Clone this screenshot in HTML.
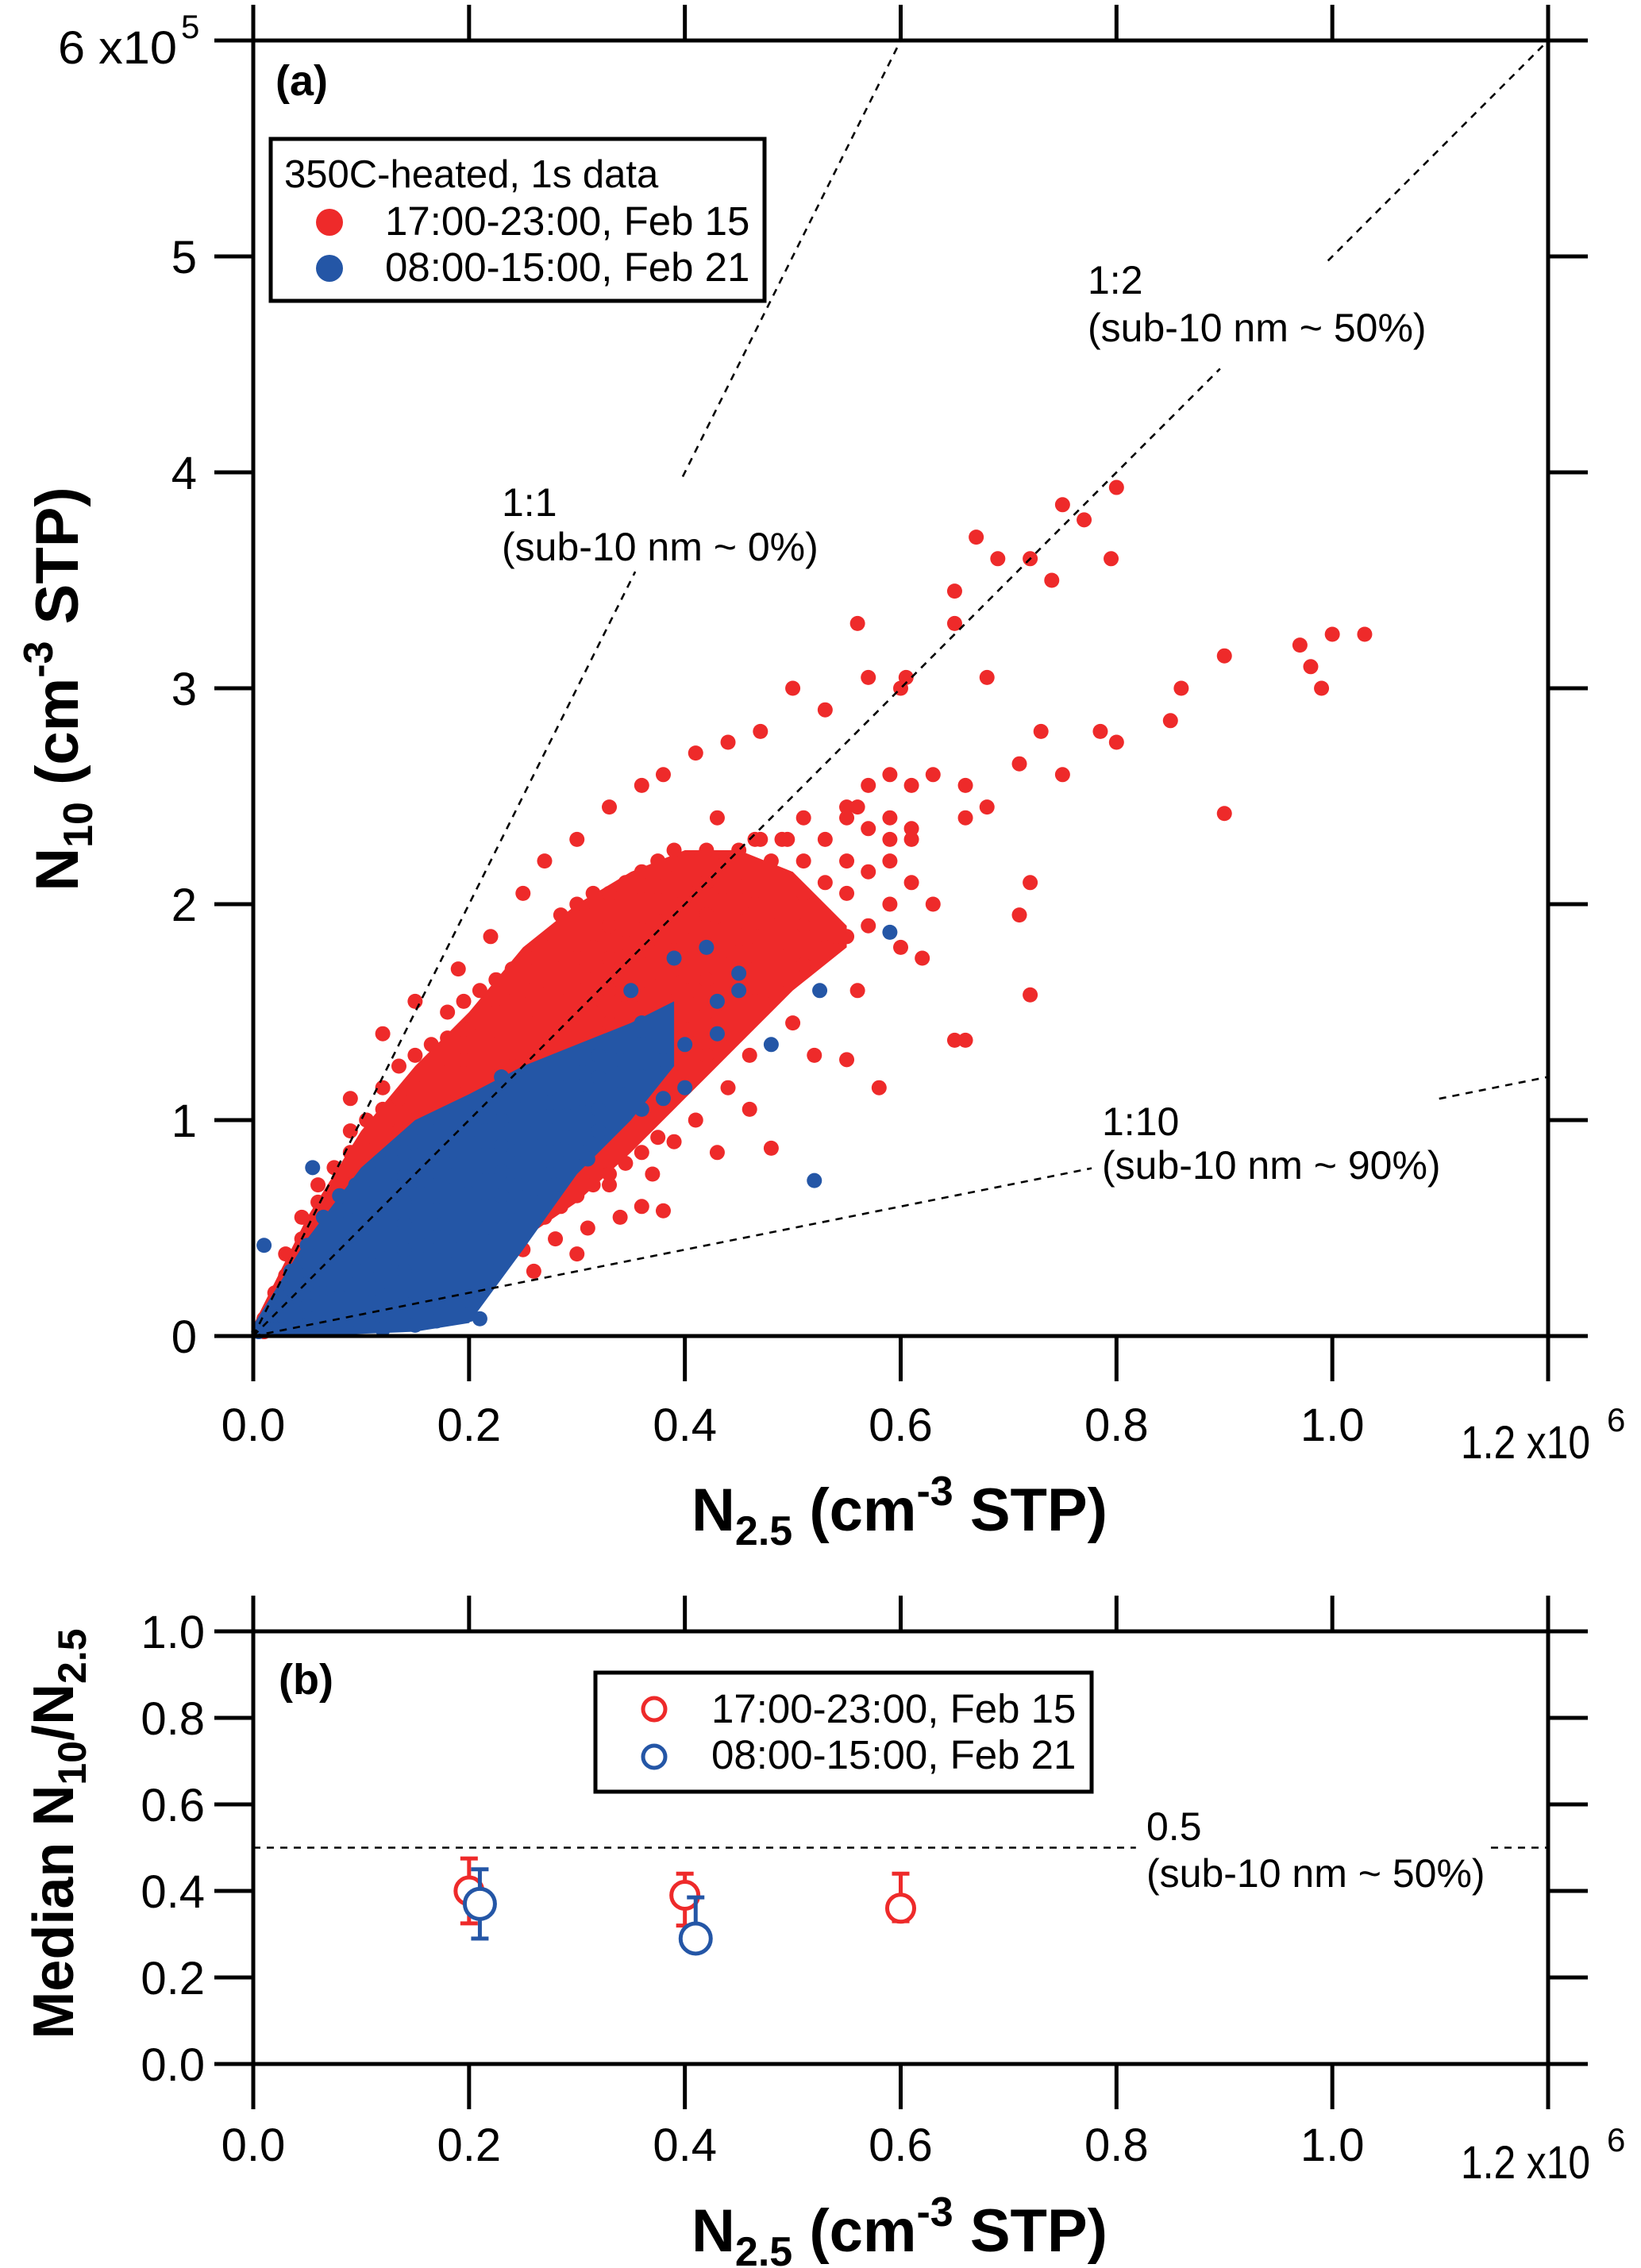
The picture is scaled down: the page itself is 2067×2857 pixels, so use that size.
<!DOCTYPE html>
<html><head><meta charset="utf-8">
<style>
html,body{margin:0;padding:0;background:#fff;}
svg{display:block;font-family:"Liberation Sans",Arial,sans-serif;}
</style></head>
<body>
<svg id="fig" xmlns="http://www.w3.org/2000/svg" width="2067" height="2857" viewBox="0 0 2067 2857"></svg>
<script>
// ---------- data (panel a: units of 1e5 cm^-3) ----------
const xTicks = [0, 2, 4, 6, 8, 10];
const xTickLabels = ["0.0", "0.2", "0.4", "0.6", "0.8", "1.0"];
const yTicksA = [0, 1, 2, 3, 4, 5];
const yTickLabelsA = ["0", "1", "2", "3", "4", "5"];
const yTicksB = [0, 0.2, 0.4, 0.6, 0.8, 1.0];
const yTickLabelsB = ["0.0", "0.2", "0.4", "0.6", "0.8", "1.0"];

const redEnvX = [0, 0.5, 1, 1.5, 2, 2.5, 3, 3.5, 4, 4.5, 5, 5.5];
const redEnvHigh = [0.05, 0.55, 0.95, 1.25, 1.5, 1.8, 2.0, 2.15, 2.25, 2.25, 2.15, 1.9];
const redEnvLow = [0, 0, 0.05, 0.1, 0.25, 0.45, 0.62, 0.85, 1.1, 1.35, 1.6, 1.8];
const blueEnvX = [0, 0.5, 1, 1.5, 2, 2.5, 3, 3.5, 3.9];
const blueEnvHigh = [0.05, 0.45, 0.78, 1.0, 1.12, 1.25, 1.35, 1.45, 1.55];
const blueEnvLow = [0, 0.0, 0.01, 0.02, 0.06, 0.4, 0.75, 1.0, 1.25];

const redRows = [
[0.1,[0.02,0.08]],[0.2,[0.03,0.12,0.2]],[0.3,[0.05,0.15,0.28,0.38]],
[0.45,[0.05,0.16,0.3,0.45,0.55]],[0.6,[0.08,0.2,0.33,0.48,0.62,0.7]],
[0.75,[0.1,0.22,0.36,0.5,0.64,0.78]],[0.9,[0.1,0.25,0.4,0.55,0.7,0.85,0.95]],
[1.05,[0.15,0.28,0.42,0.58,0.72,0.86,1.0]],[1.2,[0.18,0.3,0.45,0.6,0.75,0.9,1.05,1.15]],
[1.35,[0.2,0.35,0.5,0.65,0.8,0.95,1.1,1.25]],[1.5,[0.22,0.4,0.55,0.7,0.85,1.0,1.15,1.3]],
[1.65,[0.28,0.45,0.6,0.75,0.9,1.05,1.2,1.35]],[1.8,[0.3,0.48,0.62,0.78,0.92,1.08,1.22,1.38,1.5]],
[1.95,[0.35,0.5,0.66,0.82,0.98,1.12,1.28,1.42,1.55]],[2.1,[0.4,0.55,0.7,0.86,1.0,1.16,1.3,1.45,1.6]],
[2.25,[0.42,0.6,0.75,0.9,1.05,1.2,1.35,1.5,1.65]],[2.4,[0.45,0.62,0.78,0.95,1.1,1.25,1.4,1.55,1.7]],
[2.55,[0.5,0.66,0.82,1.0,1.15,1.3,1.45,1.6,1.75]],[2.7,[0.55,0.7,0.88,1.05,1.2,1.35,1.5,1.65,1.8]],
[2.85,[0.6,0.75,0.92,1.08,1.25,1.4,1.55,1.7,1.85,1.95]],[3.0,[0.65,0.8,0.95,1.12,1.28,1.45,1.6,1.75,1.9,2.0]],
[3.15,[0.7,0.88,1.05,1.2,1.35,1.5,1.65,1.8,1.95,2.05]],[3.3,[0.75,0.95,1.15,1.3,1.45,1.6,1.75,1.9,2.05]],
[3.45,[0.8,1.0,1.2,1.38,1.52,1.68,1.82,1.98,2.1]],[3.6,[0.85,1.05,1.25,1.42,1.58,1.72,1.88,2.02,2.15]],
[3.75,[0.92,1.15,1.3,1.48,1.62,1.78,1.92,2.08,2.2]],[3.9,[1.2,1.38,1.55,1.7,1.85,2.0,2.12,2.25]],
[4.05,[1.25,1.42,1.6,1.75,1.9,2.05,2.2]],[4.2,[1.3,1.5,1.65,1.8,1.95,2.1,2.25]],
[4.35,[1.4,1.55,1.72,1.88,2.02,2.18]],[4.5,[1.45,1.62,1.78,1.92,2.08,2.25]],
[4.65,[1.55,1.7,1.85,2.0,2.15,2.3]],[4.8,[1.6,1.75,1.9,2.05,2.2]],
[4.95,[1.65,1.82,1.98,2.12,2.3]],[5.1,[1.72,1.9,2.05,2.2,2.4]],
[5.3,[1.8,1.95,2.1,2.3]],[5.5,[1.85,2.05,2.2,2.45]],[5.7,[1.9,2.15,2.35,2.55]],
[5.9,[2.0,2.2,2.4,2.6]],[6.1,[2.1,2.3,2.55]]
];
const redExtra = [
[2.2,0.35],[2.5,0.4],[2.8,0.45],[3.1,0.5],[3.4,0.55],[3.6,0.6],[3.8,0.58],[2.0,0.25],[1.7,0.2],
[2.6,0.3],[3.0,0.38],[3.3,0.7],[3.7,0.75],[3.9,0.9],[4.1,1.0],[4.4,1.15],[4.6,1.05],[5.0,1.45],
[0.9,1.1],[1.2,1.4],[1.5,1.55],[1.9,1.7],[2.2,1.85],[2.5,2.05],[2.7,2.2],[3.0,2.3],[3.3,2.45],
[3.6,2.55],[3.8,2.6],[4.1,2.7],[4.4,2.75],[4.7,2.8],[5.0,3.0],[5.3,2.9],[5.7,3.05],[4.3,2.4],
[5.6,3.3],[6.7,3.7],[7.5,3.85],[8.0,3.93],[7.7,3.78],[6.9,3.6],[7.2,3.6],[7.4,3.5],[7.95,3.6],
[6.5,3.45],[6.5,3.3],[6.0,3.0],[6.05,3.05],[6.8,3.05],[9.7,3.2],[10.0,3.25],[10.3,3.25],[9.8,3.1],
[9.9,3.0],[9.0,3.15],[9.0,2.42],[8.6,3.0],[8.5,2.85],[8.0,2.75],[7.85,2.8],[7.5,2.6],[7.3,2.8],
[7.1,2.65],[6.8,2.45],[6.6,2.4],[6.3,2.6],[6.1,2.35],[5.9,2.3],[5.5,2.4],[4.7,2.3],[4.9,2.3],
[5.6,2.45],[6.6,2.55],[7.2,2.1],[7.1,1.95],[7.2,1.58],[6.6,1.37],[6.5,1.37],[6.2,1.75],[6.0,1.8],
[5.8,1.15],[4.8,0.87],[4.3,0.85],[5.2,1.3],[5.5,1.28],[5.6,1.6],[5.4,1.85],[6.3,2.0],[4.6,1.3]
];
const blueRows = [
[0.05,[0.02]],[0.15,[0.03,0.1]],[0.25,[0.03,0.1,0.18]],[0.35,[0.04,0.12,0.22,0.3]],
[0.5,[0.05,0.14,0.24,0.34,0.42]],[0.65,[0.06,0.16,0.26,0.36,0.46,0.55]],
[0.8,[0.07,0.18,0.28,0.38,0.48,0.58,0.65]],[0.95,[0.08,0.2,0.3,0.4,0.5,0.6,0.7]],
[1.1,[0.1,0.22,0.33,0.44,0.55,0.66,0.75]],[1.25,[0.12,0.25,0.36,0.48,0.58,0.7,0.8]],
[1.4,[0.15,0.3,0.4,0.52,0.62,0.74,0.85]],[1.55,[0.3,0.42,0.55,0.66,0.78,0.9]],
[1.7,[0.35,0.46,0.58,0.7,0.82,0.95]],[1.85,[0.4,0.5,0.62,0.74,0.86,1.0]],
[2.0,[0.45,0.55,0.66,0.78,0.9,1.02]],[2.15,[0.5,0.6,0.72,0.84,0.95]],
[2.3,[0.55,0.65,0.76,0.88,1.0]],[2.45,[0.6,0.7,0.8,0.92,1.05]],
[2.6,[0.68,0.78,0.88,1.0,1.1]],[2.75,[0.75,0.85,0.95,1.08]],[2.9,[0.8,0.92,1.02,1.15]],
[3.05,[0.85,0.98,1.1,1.22]],[3.2,[0.95,1.05,1.2,1.3]],[3.4,[1.0,1.12,1.28,1.38]],
[3.6,[1.05,1.2,1.35,1.45]],[3.8,[1.1,1.28,1.42]],[4.0,[1.15,1.35]],[4.3,[1.4,1.55]],[4.5,[1.6,1.68]]
];
const blueExtra = [
[0.1,0.42],[0.55,0.78],[1.5,0.05],[1.7,0.07],[2.0,0.1],[1.0,0.05],[5.2,0.72],[5.9,1.87],
[5.25,1.6],[4.8,1.35],[3.5,1.6],[2.3,1.2],[1.8,0.12],[1.2,0.03],[3.9,1.75],[4.2,1.8],
[2.1,0.08],[2.2,0.3],[2.5,0.55],[2.8,0.7],[3.1,0.82]
];

// ---------- data (panel b) ----------
const bRedX = [2.0, 4.0, 6.0];
const bRedY = [0.40, 0.39, 0.36];
const bRedHi = [0.475, 0.44, 0.44];
const bRedLo = [0.325, 0.32, 0.33];
const bBlueX = [2.1, 4.1];
const bBlueY = [0.37, 0.29];
const bBlueHi = [0.45, 0.385];
const bBlueLo = [0.29, 0.285];

// ---------- geometry ----------
const L = 319, R = 1950;
const aTop = 51, aBot = 1683;
const bTop = 2055, bBot = 2600;
const RED = "#ee2a2a", BLUE = "#2456a6";
const DOT = 9.5;
const X = v => L + v / 12 * (R - L);
const YA = v => aBot - v / 6 * (aBot - aTop);
const YB = v => bBot - v * (bBot - bTop);

const svg = document.getElementById("fig");
const NS = "http://www.w3.org/2000/svg";
function mk(tag, attrs, parent) {
  const e = document.createElementNS(NS, tag);
  for (const k in attrs) e.setAttribute(k, attrs[k]);
  (parent || svg).appendChild(e);
  return e;
}
function grp(name) {
  const g = mk("g", {});
  
  
  return g;
}
function txt(parent, x, y, s, size, opts) {
  opts = opts || {};
  const a = {x: x, y: y, "font-size": size, fill: "#000",
    "text-anchor": opts.anchor || "start", "font-weight": opts.weight || "normal"};
  if (opts.len) { a.textLength = opts.len; a.lengthAdjust = "spacingAndGlyphs"; }
  const t = mk("text", a, parent);
  t.textContent = s;
  return t;
}

// ---------- panel a: scatter ----------
const scatterA = grp("panel-a-scatter");
function envPath(xs, lo, hi) {
  let d = "";
  xs.forEach((x, i) => { d += (i ? "L" : "M") + X(x) + "," + YA(hi[i]); });
  for (let i = xs.length - 1; i >= 0; i--) d += "L" + X(xs[i]) + "," + YA(lo[i]);
  return d + "Z";
}
const redEnv = mk("path", {d: envPath(redEnvX, redEnvLow, redEnvHigh), fill: RED}, scatterA);


const rpts = [];
redRows.forEach(r => r[1].forEach(y => rpts.push([r[0], y])));
redExtra.forEach(p => rpts.push(p));
rpts.forEach(p => {
  const c = mk("circle", {cx: X(p[0]), cy: YA(p[1]), r: DOT, fill: RED}, scatterA);
  
  
});
const blueEnv = mk("path", {d: envPath(blueEnvX, blueEnvLow, blueEnvHigh), fill: BLUE}, scatterA);


const bpts = [];
blueRows.forEach(r => r[1].forEach(y => bpts.push([r[0], y])));
blueExtra.forEach(p => bpts.push(p));
bpts.forEach(p => {
  const c = mk("circle", {cx: X(p[0]), cy: YA(p[1]), r: DOT, fill: BLUE}, scatterA);
  
  
});

// ---------- ratio lines ----------
const ratios = [1, 0.5, 0.1];
const ratioGaps = [[3.54, 3.98], [8.96, 9.96], [7.77, 10.99]];
const ratioNames = ["ratio-line-1-1", "ratio-line-1-2", "ratio-line-1-10"];
ratios.forEach((k, i) => {
  const xmax = Math.min(12, 6 / k);
  const segs = [[0, ratioGaps[i][0]], [ratioGaps[i][1], xmax]];
  segs.forEach(s => {
    const ln = mk("line", {x1: X(s[0]), y1: YA(s[0] * k), x2: X(s[1]), y2: YA(s[1] * k),
      stroke: "#000", "stroke-width": 2.6, "stroke-dasharray": "9,8"});
    
    
  });
});

// ---------- axes (shared helper) ----------
function axes(top, bot, yTicks, yLabels, Yf, name, yLabelX) {
  const g = grp(name);
  const sw = 5;
  mk("line", {x1: 270, y1: top, x2: 2000, y2: top, stroke: "#000", "stroke-width": sw}, g);
  mk("line", {x1: 270, y1: bot, x2: 2000, y2: bot, stroke: "#000", "stroke-width": sw}, g);
  mk("line", {x1: L, y1: top - 2, x2: L, y2: bot + 57, stroke: "#000", "stroke-width": sw}, g);
  mk("line", {x1: R, y1: top - 45, x2: R, y2: bot + 57, stroke: "#000", "stroke-width": sw}, g);
  xTicks.concat([12]).forEach(v => {
    mk("line", {x1: X(v), y1: top - 45, x2: X(v), y2: top, stroke: "#000", "stroke-width": sw}, g);
    mk("line", {x1: X(v), y1: bot, x2: X(v), y2: bot + 57, stroke: "#000", "stroke-width": sw}, g);
  });
  yTicks.forEach(v => {
    mk("line", {x1: 270, y1: Yf(v), x2: L, y2: Yf(v), stroke: "#000", "stroke-width": sw}, g);
    mk("line", {x1: R, y1: Yf(v), x2: 2000, y2: Yf(v), stroke: "#000", "stroke-width": sw}, g);
  });
  yTicks.forEach((v, i) => {
    const t = txt(g, yLabelX, Yf(v) + 21, yLabels[i], 58, {anchor: "end"});
    
    
  });
  return g;
}
const axA = axes(aTop, aBot, yTicksA, yTickLabelsA, YA, "panel-a-axes", 248);
axes(bTop, bBot, yTicksB, yTickLabelsB, YB, "panel-b-axes", 258);

function xLabels(baseline, name) {
  const g = grp(name);
  xTicks.forEach((v, i) => {
    const t = txt(g, X(v), baseline, xTickLabels[i], 58, {anchor: "middle"});
    
    
  });
  const m = txt(g, 1840, baseline + 22, "1.2 x10", 58, {len: 163});
  
  
  txt(g, 2024, baseline - 12, "6", 42);
}
xLabels(1815, "panel-a-x-tick-labels");
xLabels(2722, "panel-b-x-tick-labels");

// y multiplier on panel a
const ym = txt(axA, 73, 80, "6 x10", 58, {len: 150});


txt(axA, 228, 48, "5", 42);

// ---------- axis titles ----------
function xTitle(baseline, name) {
  const t = mk("text", {x: 1133, y: baseline, "font-size": 76, "font-weight": "bold", "text-anchor": "middle"});
  
  
  t.innerHTML = 'N<tspan font-size="52" dy="18">2.5</tspan><tspan dy="-18"> (cm</tspan><tspan font-size="52" dy="-32">-3</tspan><tspan dy="32"> STP)</tspan>';
}
xTitle(1928, "panel-a-x-axis-title");
xTitle(2836, "panel-b-x-axis-title");

const yta = mk("text", {x: 0, y: 0, "font-size": 76, "font-weight": "bold", "text-anchor": "middle",
  transform: "translate(98,868) rotate(-90)"});


yta.innerHTML = 'N<tspan font-size="52" dy="18">10</tspan><tspan dy="-18"> (cm</tspan><tspan font-size="52" dy="-32">-3</tspan><tspan dy="32"> STP)</tspan>';

const ytb = mk("text", {x: 0, y: 0, "font-size": 72, "font-weight": "bold", "text-anchor": "middle",
  transform: "translate(92,2310) rotate(-90)"});


ytb.innerHTML = 'Median N<tspan font-size="50" dy="16">10</tspan><tspan dy="-16">/N</tspan><tspan font-size="50" dy="16">2.5</tspan>';

// ---------- panel labels & annotations ----------
const ann = grp("annotations");
txt(ann, 347, 120, "(a)", 54, {weight: "bold"});
txt(ann, 351, 2134, "(b)", 54, {weight: "bold"});
txt(ann, 632, 650, "1:1", 50);
txt(ann, 632, 706, "(sub-10 nm ~ 0%)", 50);
txt(ann, 1370, 370, "1:2", 50);
txt(ann, 1370, 430, "(sub-10 nm ~ 50%)", 50);
txt(ann, 1388, 1430, "1:10", 50);
txt(ann, 1388, 1485, "(sub-10 nm ~ 90%)", 50);
txt(ann, 1444, 2318, "0.5", 50);
txt(ann, 1444, 2377, "(sub-10 nm ~ 50%)", 50);

// ---------- legend a ----------
const legA = grp("legend-panel-a");
mk("rect", {x: 341, y: 175, width: 622, height: 204, fill: "#fff", stroke: "#000", "stroke-width": 5}, legA);
txt(legA, 358, 236, "350C-heated, 1s data", 49);
const la1 = mk("circle", {cx: 415, cy: 280, r: 17, fill: RED}, legA);


txt(legA, 485, 296, "17:00-23:00, Feb 15", 51);
const la2 = mk("circle", {cx: 415, cy: 338, r: 17, fill: BLUE}, legA);


txt(legA, 485, 354, "08:00-15:00, Feb 21", 51);

// ---------- panel b ----------
const refB = grp("reference-line-0.5");
[[0, 8.18], [11.47, 12]].forEach(s => {
  mk("line", {x1: X(s[0]), y1: YB(0.5), x2: X(s[1]), y2: YB(0.5), stroke: "#000",
    "stroke-width": 2.6, "stroke-dasharray": "9,8"}, refB);
});
function series(xs, ys, hi, lo, col, r, name) {
  const g = grp(name);
  xs.forEach((x, i) => {
    const cx = X(x);
    mk("line", {x1: cx, y1: YB(hi[i]), x2: cx, y2: YB(lo[i]), stroke: col, "stroke-width": 5}, g);
    mk("line", {x1: cx - 11, y1: YB(hi[i]), x2: cx + 11, y2: YB(hi[i]), stroke: col, "stroke-width": 5}, g);
    mk("line", {x1: cx - 11, y1: YB(lo[i]), x2: cx + 11, y2: YB(lo[i]), stroke: col, "stroke-width": 5}, g);
    const c = mk("circle", {cx: cx, cy: YB(ys[i]), r: r, fill: "#fff", stroke: col, "stroke-width": 5}, g);
    
    
  });
}
series(bRedX, bRedY, bRedHi, bRedLo, RED, 17, "median-feb15");
series(bBlueX, bBlueY, bBlueHi, bBlueLo, BLUE, 19, "median-feb21");

const legB = grp("legend-panel-b");
mk("rect", {x: 750, y: 2107, width: 625, height: 150, fill: "#fff", stroke: "#000", "stroke-width": 5}, legB);
const lb1 = mk("circle", {cx: 824, cy: 2153, r: 14, fill: "none", stroke: RED, "stroke-width": 5}, legB);


txt(legB, 896, 2170, "17:00-23:00, Feb 15", 51);
const lb2 = mk("circle", {cx: 824, cy: 2213, r: 14, fill: "none", stroke: BLUE, "stroke-width": 5}, legB);


txt(legB, 896, 2228, "08:00-15:00, Feb 21", 51);
</script>
</body></html>
